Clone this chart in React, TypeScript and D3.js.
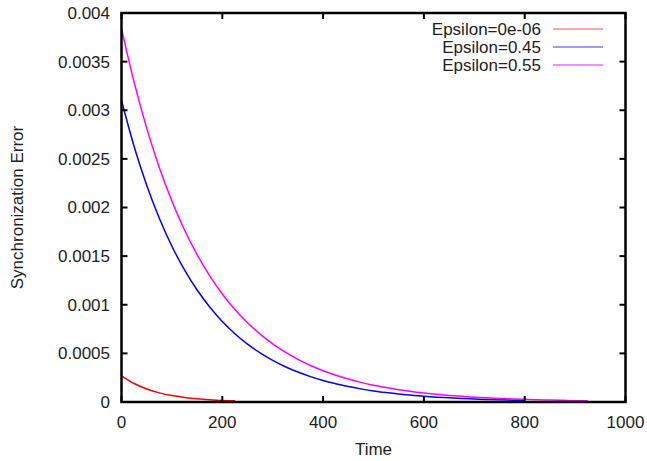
import React, { useEffect, useRef } from 'react';
import * as d3 from 'd3';

// time samples (every 25 units) and errors
const redTimes = [0, 25, 50, 75, 100, 125, 150, 175, 200, 225];
const redValues = [0.00027, 0.00019, 0.000134, 0.000094, 0.000066, 0.000047, 0.000033, 0.000023, 0.000016, 0.000012];

const blueTimes = [0, 25, 50, 75, 100, 125, 150, 175, 200, 225, 250, 275, 300, 325, 350, 375, 400,
  425, 450, 475, 500, 525, 550, 575, 600, 625, 650, 675, 700, 725, 750, 775, 800];
const blueValues = [0.0031, 0.002628, 0.002229, 0.00189, 0.001602, 0.001359, 0.001152, 0.000977, 0.000828,
  0.000702, 0.000595, 0.000505, 0.000428, 0.000363, 0.000308, 0.000261, 0.000221, 0.000188, 0.000159,
  0.000135, 0.000114, 0.000097, 0.000082, 0.00007, 0.000059, 0.00005, 0.000043, 0.000036, 0.000031,
  0.000026, 0.000022, 0.000019, 0.000016];

const magentaTimes = [0, 25, 50, 75, 100, 125, 150, 175, 200, 225, 250, 275, 300, 325, 350, 375, 400,
  425, 450, 475, 500, 525, 550, 575, 600, 625, 650, 675, 700, 725, 750, 775, 800, 825, 850, 875, 900, 925];
const magentaValues = [0.00384, 0.003289, 0.002816, 0.002412, 0.002066, 0.001769, 0.001515, 0.001297,
  0.001111, 0.000951, 0.000815, 0.000698, 0.000598, 0.000512, 0.000438, 0.000375, 0.000321, 0.000275,
  0.000236, 0.000202, 0.000173, 0.000148, 0.000127, 0.000109, 0.000093, 0.00008, 0.000068, 0.000058,
  0.00005, 0.000043, 0.000037, 0.000031, 0.000027, 0.000023, 0.00002, 0.000017, 0.000014, 0.000012];

const seriesLabels = ['Epsilon=0e-06', 'Epsilon=0.45', 'Epsilon=0.55'];
const xTicks = [0, 200, 400, 600, 800, 1000];
const yTicks = [0, 0.0005, 0.001, 0.0015, 0.002, 0.0025, 0.003, 0.0035, 0.004];

export default function App() {
  const chartRef = useRef<SVGSVGElement>(null);

  useEffect(() => {
    const width = 647;
    const height = 461;
    const margin = { top: 13, right: 21.5, bottom: 59, left: 121.5 };
    const font = '"Liberation Sans", Arial, sans-serif';

    const svg = d3.select(chartRef.current);
    svg.selectAll('*').remove();
    svg.attr('width', width).attr('height', height);

    const x = d3.scaleLinear().domain([0, 1000]).range([margin.left, width - margin.right]);
    const y = d3.scaleLinear().domain([0, 0.004]).range([height - margin.bottom, margin.top]);

    const series = [
      { times: redTimes, values: redValues, color: '#ff0000', legend: '#ff8a8a' },
      { times: blueTimes, values: blueValues, color: '#0000ff', legend: '#7a7aff' },
      { times: magentaTimes, values: magentaValues, color: '#ff00ff', legend: '#ff66ff' },
    ];

    const line = d3.line<[number, number]>()
      .x(d => x(d[0]))
      .y(d => y(d[1]))
      .curve(d3.curveMonotoneX);

    series.forEach(s => {
      svg.append('path')
        .datum(s.times.map((t, i) => [t, s.values[i]] as [number, number]))
        .attr('fill', 'none')
        .attr('stroke', s.color)
        .attr('stroke-width', 1.5)
        .attr('d', line);
    });

    // ticks on all four sides, pointing inwards
    const tickLen = 6;
    const tickColor = '#000';
    xTicks.forEach(t => {
      svg.append('line')
        .attr('x1', x(t)).attr('x2', x(t))
        .attr('y1', y(0)).attr('y2', y(0) - tickLen)
        .attr('stroke', tickColor).attr('stroke-width', 2);
      svg.append('line')
        .attr('x1', x(t)).attr('x2', x(t))
        .attr('y1', y(0.004)).attr('y2', y(0.004) + tickLen)
        .attr('stroke', tickColor).attr('stroke-width', 2);
      svg.append('text')
        .attr('x', x(t))
        .attr('y', y(0) + 26)
        .attr('text-anchor', 'middle')
        .attr('font-family', font)
        .attr('font-size', 17)
        .attr('fill', '#222')
        .text(String(t));
    });

    yTicks.forEach(t => {
      svg.append('line')
        .attr('x1', x(0)).attr('x2', x(0) + tickLen)
        .attr('y1', y(t)).attr('y2', y(t))
        .attr('stroke', tickColor).attr('stroke-width', 2);
      svg.append('line')
        .attr('x1', x(1000)).attr('x2', x(1000) - tickLen)
        .attr('y1', y(t)).attr('y2', y(t))
        .attr('stroke', tickColor).attr('stroke-width', 2);
      svg.append('text')
        .attr('x', x(0) - 11.5)
        .attr('y', y(t))
        .attr('dy', '0.35em')
        .attr('text-anchor', 'end')
        .attr('font-family', font)
        .attr('font-size', 17)
        .attr('fill', '#222')
        .text(String(t));
    });

    // frame
    svg.append('rect')
      .attr('x', x(0)).attr('y', y(0.004))
      .attr('width', x(1000) - x(0))
      .attr('height', y(0) - y(0.004))
      .attr('fill', 'none')
      .attr('stroke', '#000')
      .attr('stroke-width', 2.5);

    // axis titles
    svg.append('text')
      .attr('x', (x(0) + x(1000)) / 2)
      .attr('y', 455)
      .attr('text-anchor', 'middle')
      .attr('font-family', font)
      .attr('font-size', 17)
      .attr('fill', '#222')
      .text('Time');

    svg.append('text')
      .attr('transform', `translate(17, ${(y(0) + y(0.004)) / 2}) rotate(-90)`)
      .attr('dy', '0.35em')
      .attr('text-anchor', 'middle')
      .attr('font-family', font)
      .attr('font-size', 17)
      .attr('fill', '#222')
      .text('Synchronization Error');

    // legend
    series.forEach((s, i) => {
      const ly = 29 + i * 18;
      svg.append('text')
        .attr('x', 541)
        .attr('y', ly)
        .attr('dy', '0.35em')
        .attr('text-anchor', 'end')
        .attr('font-family', font)
        .attr('font-size', 17)
        .attr('fill', '#222')
        .text(seriesLabels[i]);
      svg.append('line')
        .attr('x1', 553).attr('x2', 603)
        .attr('y1', ly).attr('y2', ly)
        .attr('stroke', s.legend)
        .attr('stroke-width', 1.5);
    });
  }, []);

  return <svg ref={chartRef} style={{ position: 'absolute', left: 0, top: 0 }} />;
}
